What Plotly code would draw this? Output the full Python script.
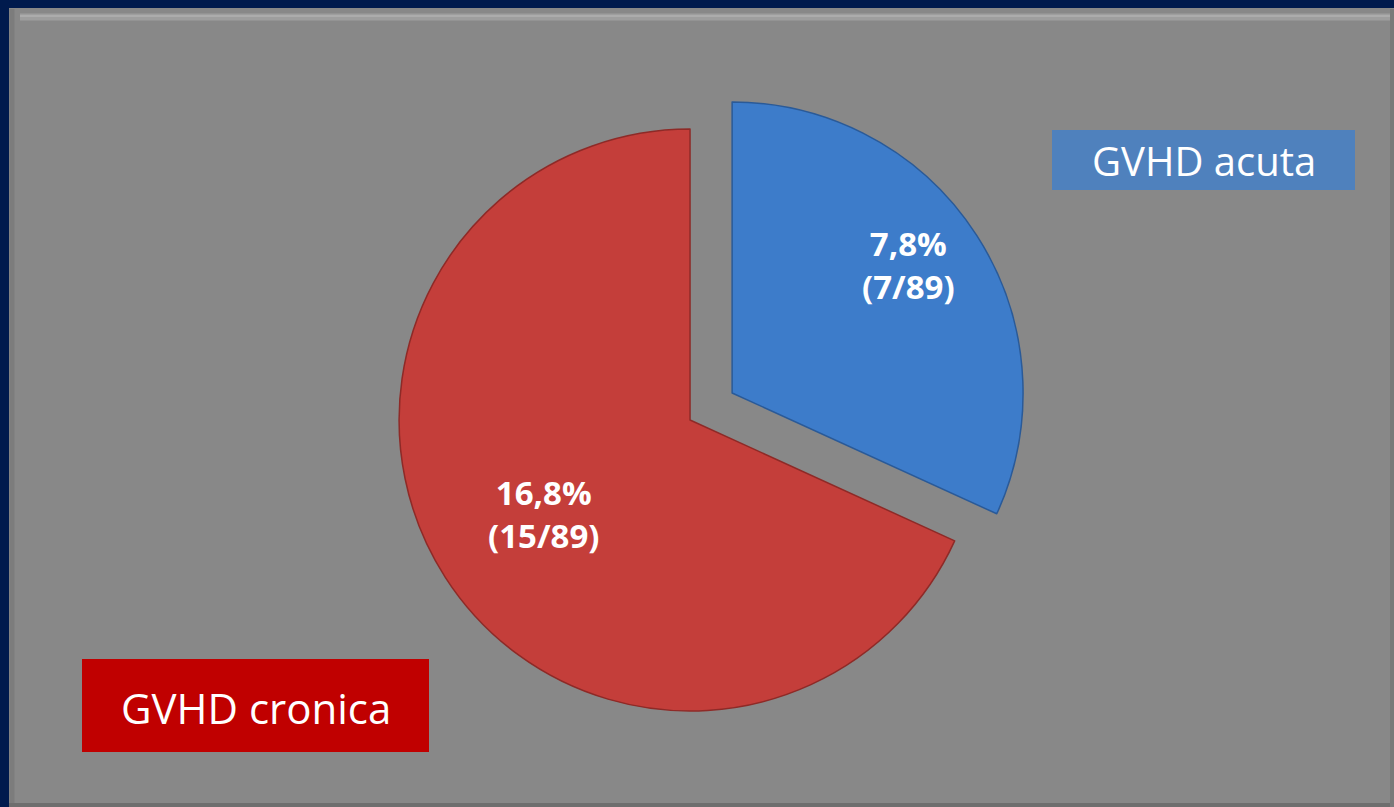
import math
import plotly.graph_objects as go

# GVHD incidence among 89 patients
categories = ["GVHD acuta", "GVHD cronica"]
cases = [7, 15]
total_patients = 89
pct_labels = ["7,8%", "16,8%"]
slice_colors = ["#3d7cca", "#c43e3a"]
edge_colors = ["#2a5a98", "#8e2a27"]
pulls = [0.172, 0.0]

W, H = 1394, 807
dom_x = [0.2504, 0.7396]
dom_y = [0.0570, 0.9021]

fig = go.Figure(
    go.Pie(
        labels=categories,
        values=cases,
        sort=False,
        direction="clockwise",
        rotation=0,
        pull=pulls,
        textinfo="none",
        marker=dict(colors=slice_colors, line=dict(color=edge_colors, width=1.5)),
        domain=dict(x=dom_x, y=dom_y),
        showlegend=False,
        hoverinfo="label+value",
    )
)

# place slice labels near each slice's bisector, in pixel space of the pie
box_w = W * (dom_x[1] - dom_x[0])
box_h = H * (dom_y[1] - dom_y[0])
radius = min(box_w, box_h) / (2 * (1 + max(pulls)))
cx = W * (dom_x[0] + dom_x[1]) / 2
cy = H * (1 - (dom_y[0] + dom_y[1]) / 2)
label_depth = [0.75, 0.60]
label_turn_deg = [-2.7, 0.0]

annotations = []
start = 0.0
tot = sum(cases)
for i, c in enumerate(cases):
    frac = c / tot
    mid = 2 * math.pi * (start + frac / 2) + math.radians(label_turn_deg[i])
    start += frac
    d = radius * (pulls[i] + label_depth[i])
    px = cx + d * math.sin(mid)
    py = cy - d * math.cos(mid)
    annotations.append(dict(
        text=f"<b>{pct_labels[i]}<br>({c}/{total_patients})</b>",
        xref="paper", yref="paper", x=px / W, y=1 - py / H,
        showarrow=False, xanchor="center", yanchor="middle",
        font=dict(family="Open Sans", size=33, color="white"),
    ))

shapes = [
    # grey panel inside the navy frame
    dict(type="rect", xref="paper", yref="paper", x0=9 / W, x1=1, y0=0, y1=1 - 8 / H,
         fillcolor="#888888", line=dict(width=0), layer="below"),
    # bevel highlights and shadows
    dict(type="line", xref="paper", yref="paper", x0=20 / W, x1=1, y0=1 - 17 / H, y1=1 - 17 / H,
         line=dict(color="#9e9e9e", width=7), layer="below"),
    dict(type="line", xref="paper", yref="paper", x0=20 / W, x1=1, y0=1 - 16 / H, y1=1 - 16 / H,
         line=dict(color="#acacac", width=2), layer="below"),
    dict(type="line", xref="paper", yref="paper", x0=12 / W, x1=12 / W, y0=0, y1=1 - 9 / H,
         line=dict(color="#7c7c7c", width=5), layer="below"),
    dict(type="line", xref="paper", yref="paper", x0=9 / W, x1=1, y0=2 / H, y1=2 / H,
         line=dict(color="#6e6e6e", width=4), layer="below"),
    dict(type="line", xref="paper", yref="paper", x0=1 - 2 / W, x1=1 - 2 / W, y0=0, y1=1 - 9 / H,
         line=dict(color="#7a7a7a", width=4), layer="below"),
    # legend boxes
    dict(type="rect", xref="paper", yref="paper", x0=1052 / W, x1=1355 / W,
         y0=1 - 190 / H, y1=1 - 130 / H, fillcolor="#4f81bd", line=dict(width=0)),
    dict(type="rect", xref="paper", yref="paper", x0=82 / W, x1=429 / W,
         y0=1 - 752 / H, y1=1 - 659 / H, fillcolor="#c00000", line=dict(width=0)),
]

annotations += [
    dict(text="GVHD acuta", xref="paper", yref="paper", x=(1052 + 1355) / 2 / W, y=1 - 161 / H,
         showarrow=False, font=dict(family="Open Sans", size=40, color="white"),
         xanchor="center", yanchor="middle"),
    dict(text="GVHD cronica", xref="paper", yref="paper", x=(82 + 429) / 2 / W, y=1 - 707 / H,
         showarrow=False, font=dict(family="Open Sans", size=42, color="white"),
         xanchor="center", yanchor="middle"),
]

fig.update_layout(
    width=W,
    height=H,
    margin=dict(l=0, r=0, t=0, b=0),
    paper_bgcolor="#001a4d",
    plot_bgcolor="#888888",
    shapes=shapes,
    annotations=annotations,
)

fig.write_html("out.html")
